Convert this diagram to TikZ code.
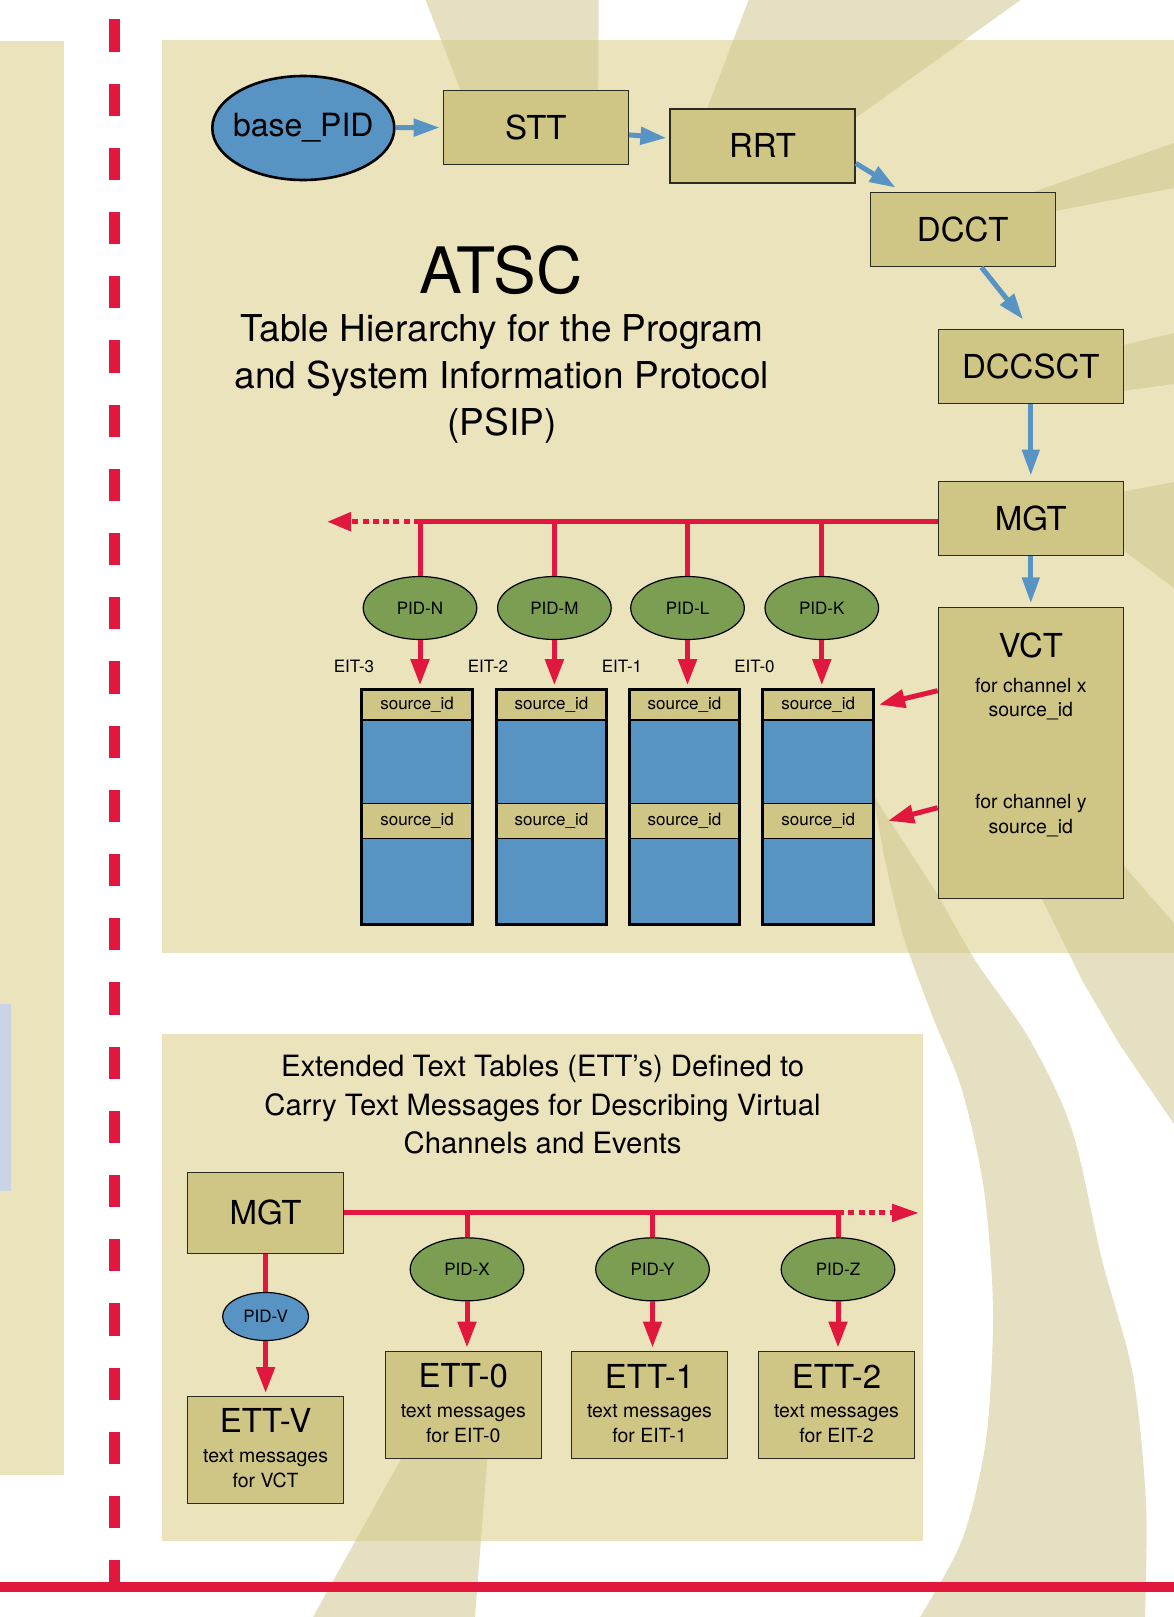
\documentclass[tikz,border=0pt]{standalone}
\usepackage{fontspec}
\setmainfont{TeX Gyre Heros}
\usetikzlibrary{arrows.meta}
\usetikzlibrary{shapes.geometric}
\usetikzlibrary{calc}
\definecolor{panel}{HTML}{EBE3BC}
\definecolor{boxfill}{HTML}{CFC584}
\definecolor{boxline}{HTML}{2B2B1F}
\definecolor{pidblue}{HTML}{5794C3}
\definecolor{pidgreen}{HTML}{7B9E52}
\definecolor{psipred}{HTML}{E2173E}
\definecolor{ray}{HTML}{D0C68C}
\definecolor{stripblue}{HTML}{C9D4E6}

\begin{document}
\begin{tikzpicture}[x=1pt, y=-1pt,
  table/.style={draw=boxline, line width=1.4pt, fill=boxfill, minimum width=185pt, minimum height=74pt, inner sep=0pt, font=\fontsize{33}{36}\selectfont},
  ett/.style={table, minimum width=156pt, minimum height=107pt},
  pid/.style={ellipse, draw=black, line width=1.2pt, fill=pidgreen, minimum width=113.6pt, minimum height=63pt, inner sep=0pt, font=\fontsize{17}{20}\selectfont},
  col/.style={fill=pidblue, minimum width=110.5pt, minimum height=234.7pt, inner sep=0pt},
  colframe/.style={draw=black, line width=3pt, minimum width=110.5pt, minimum height=234.7pt, inner sep=0pt},
  sid/.style={draw=black, line width=1.2pt, fill=boxfill, minimum width=110.5pt, inner sep=0pt, font=\fontsize{17}{20}\selectfont},
  small/.style={font=\fontsize{19.5}{24.5}\selectfont, align=center, inner sep=0pt},
  label/.style={font=\fontsize{17}{20}\selectfont, inner sep=0pt},
  bigtxt/.style={font=\fontsize{33}{36}\selectfont, inner sep=0pt},
  bluearrow/.style={pidblue, line width=5pt, -{Triangle[length=26pt, width=17pt]}},
  redarrow/.style={psipred, line width=5pt, -{Triangle[length=26pt, width=18pt]}},
  redline/.style={psipred, line width=5pt},
  dottedbus/.style={dash pattern=on 6pt off 4.3pt}]
\def\a{.53}
\useasboundingbox[fill=white] (0,0) rectangle (1174,1617);
\fill[panel] (0,41) rectangle (63.5,1474.5);
\fill[stripblue] (0,1004) rectangle (11,1190.7);
\fill[panel] (161.9,40) rectangle (1174,953);
\fill[panel] (161.9,1034) rectangle (922.8,1541);
\fill[ray, fill opacity=\a] (425.6,0) -- (598.7,0) -- (598,120) -- (472,120) -- cycle;
\fill[ray, fill opacity=\a] (748.6,0) -- (1020.5,0) -- (850,122) -- (702,122) -- cycle;
\fill[ray, fill opacity=\a] (1010,200) -- (1174,143) -- (1174,188) -- (1050,212) -- cycle;
\fill[ray, fill opacity=\a] (1115,347) -- (1174,333) -- (1174,384) -- (1115,392) -- cycle;
\fill[ray, fill opacity=\a] (1115,493) -- (1174,482) -- (1174,588) -- (1115,544) -- cycle;
\fill[ray, fill opacity=\a] plot[smooth] coordinates {(873,795) (885,860) (903,935) (932,1015) (962,1090) (984,1190) (993,1311) (986,1440) (962,1540) (920,1617)} -- (1145,1617) -- plot[smooth] coordinates {(1145,1617) (1146,1503) (1133,1375) (1102,1260) (1072,1130) (1030,1040) (975,960) (938,895)} -- cycle;
\fill[ray, fill opacity=\a] (1040,895) -- (1123,865) -- (1174,923) -- (1174,1124) -- (1120,1045) -- (1083,982) -- cycle;
\fill[ray, fill opacity=\a] (406,1450) -- (488,1450) -- (475,1617) -- (313,1617) -- cycle;
\draw[psipred, line width=10.7pt, dash pattern=on 32.2pt off 32pt] (114.8,19.3) -- (114.8,1587);
\draw[psipred, line width=10pt] (0,1587) -- (1174,1587);
%\draw[psipred, line width=10pt] (0,1587) -- (114.8,1587);

\node[ellipse, draw=black, line width=2.6pt, fill=pidblue, minimum width=182pt, minimum height=104pt, inner sep=0pt, inner xsep=-25pt, font=\fontsize{32}{36}\selectfont] (basepid) at (303.3,128) {base\_PID};
\node[table] (STT) at (535.9,127.2) {STT};
\node[table] (RRT) at (762.6,145.9) {RRT};
\node[table] (DCCT) at (962.8,229.7) {DCCT};
\node[table] (DCCSCT) at (1030.8,366.2) {DCCSCT};
\node[table] (MGTa) at (1030.8,518.2) {MGT};
\node[table, minimum height=291pt] (VCT) at (1030.8,753.2) {};
\node[bigtxt] (vctname) at (1030.8,645.7) {VCT};
\node[small] (chx) at (1030.8,698.9) {for channel x\\source\_id};
\node[small] (chy) at (1030.8,815.8) {for channel y\\source\_id};
\node[font=\fontsize{64}{70}\selectfont, inner sep=0pt] (atsc) at (501,270) {ATSC};
\node[font=\fontsize{37}{47.3}\selectfont, align=center, inner sep=0pt] (subtitle) at (502,379) {Table Hierarchy for the Program\\and System Information Protocol\\(PSIP)};

\draw[bluearrow, shorten >=3pt] (basepid) -- (STT);
\draw[bluearrow, shorten >=3pt] (STT) -- (RRT);
\draw[bluearrow] ([yshift=-17.4pt]RRT.east) -- ([xshift=26pt, yshift=4.4pt]DCCT.north west);
\draw[bluearrow] ([xshift=18.7pt]DCCT.south) -- ([xshift=-7.6pt, yshift=9pt]DCCSCT.north);
\draw[bluearrow, shorten >=5pt] (DCCSCT) -- (MGTa);
\draw[bluearrow, shorten >=3.7pt] (MGTa) -- (VCT);

\node[pid] (PIDN) at (420,608) {PID-N};
\node[pid] (PIDM) at (554.4,608) {PID-M};
\node[pid] (PIDL) at (687.5,608) {PID-L};
\node[pid] (PIDK) at (821.8,608) {PID-K};
\node[label] (eit3) at (354,666.7) {EIT-3};
\node[label] (eit2) at (488,666.7) {EIT-2};
\node[label] (eit1) at (622,666.7) {EIT-1};
\node[label] (eit0) at (754.5,666.7) {EIT-0};

\node[col] (col1) at (417.1,806.65) {};
\node[col] (col2) at (551.5,806.65) {};
\node[col] (col3) at (684.5,806.65) {};
\node[col] (col4) at (818.2,806.65) {};
\node[sid, minimum height=30.7pt] (sid1a) at (417.1,704.65) {source\_id};
\node[sid, minimum height=30.7pt] (sid2a) at (551.5,704.65) {source\_id};
\node[sid, minimum height=30.7pt] (sid3a) at (684.5,704.65) {source\_id};
\node[sid, minimum height=30.7pt] (sid4a) at (818.2,704.65) {source\_id};
\node[sid, minimum height=35pt] (sid1b) at (417.1,820.8) {source\_id};
\node[sid, minimum height=35pt] (sid2b) at (551.5,820.8) {source\_id};
\node[sid, minimum height=35pt] (sid3b) at (684.5,820.8) {source\_id};
\node[sid, minimum height=35pt] (sid4b) at (818.2,820.8) {source\_id};
\node[colframe] (frame1) at (col1) {};
\node[colframe] (frame2) at (col2) {};
\node[colframe] (frame3) at (col3) {};
\node[colframe] (frame4) at (col4) {};

\coordinate (busR) at ([yshift=-3.5pt]MGTa.west);
\coordinate (busL) at (327,521.7);
\draw[redline] (busR) -- (busR -| PIDN.north);
\draw[redline, dottedbus, -{Triangle[length=24pt, width=18pt]}] (busR -| PIDN.north) -- (busL);
\draw[redline] (busR -| PIDN.north) -- (PIDN.north);
\draw[redline] (busR -| PIDM.north) -- (PIDM.north);
\draw[redline] (busR -| PIDL.north) -- (PIDL.north);
\draw[redline] (busR -| PIDK.north) -- (PIDK.north);
\draw[redarrow, shorten >=2.6pt] (PIDN.south) -- (PIDN.south |- frame1.north);
\draw[redarrow, shorten >=2.6pt] (PIDM.south) -- (PIDM.south |- frame2.north);
\draw[redarrow, shorten >=2.6pt] (PIDL.south) -- (PIDL.south |- frame3.north);
\draw[redarrow, shorten >=2.6pt] (PIDK.south) -- (PIDK.south |- frame4.north);
\draw[redarrow] ($(VCT.west)+(0,-62.5)$) -- ($(sid4a.east)+(5,0)$);
\draw[redarrow] ($(VCT.west)+(0,54.5)$) -- ($(sid4b.east)+(14,0)$);

\node[font=\fontsize{29.3}{38.7}\selectfont, align=center, inner sep=0pt] (etttitle) at (542.6,1104.8) {Extended Text Tables (ETT’s) Defined to\\Carry Text Messages for Describing Virtual\\Channels and Events};
\node[table, minimum width=156pt, minimum height=80.8pt] (MGTb) at (265.6,1212.9) {MGT};
\node[pid, fill=pidblue, minimum width=86pt, minimum height=48pt] (PIDV) at (265.6,1316.5) {PID-V};
\node[pid] (PIDX) at (467,1269.3) {PID-X};
\node[pid] (PIDY) at (652.5,1269.3) {PID-Y};
\node[pid] (PIDZ) at (838,1269.3) {PID-Z};
\node[ett] (ETTV) at (265.6,1450.2) {};
\node[ett] (ETT0) at (463.3,1404.7) {};
\node[ett] (ETT1) at (649.5,1404.7) {};
\node[ett] (ETT2) at (836.5,1404.7) {};
\node[bigtxt] (ETTVt) at ($(ETTV.north)+(0,24.3)$) {ETT-V};
\node[small] (ETTVs) at ($(ETTV.north)+(0,72.8)$) {text messages\\for VCT};
\node[bigtxt] (ETT0t) at ($(ETT0.north)+(0,25.6)$) {ETT-0};
\node[small] (ETT0s) at ($(ETT0.north)+(0,72.9)$) {text messages\\for EIT-0};
\node[bigtxt] (ETT1t) at ($(ETT1.north)+(0,25.6)$) {ETT-1};
\node[small] (ETT1s) at ($(ETT1.north)+(0,72.9)$) {text messages\\for EIT-1};
\node[bigtxt] (ETT2t) at ($(ETT2.north)+(0,25.6)$) {ETT-2};
\node[small] (ETT2s) at ($(ETT2.north)+(0,72.9)$) {text messages\\for EIT-2};

\coordinate (bus2R) at (919,1212.9);
\draw[redline] (MGTb.east) -- (MGTb.east -| PIDZ.north);
\draw[redline, dottedbus, -{Triangle[length=27pt, width=17pt]}] (MGTb.east -| PIDZ.north) -- (bus2R);
\draw[redline] (MGTb.east -| PIDX.north) -- (PIDX.north);
\draw[redline] (MGTb.east -| PIDY.north) -- (PIDY.north);
\draw[redline] (MGTb.east -| PIDZ.north) -- (PIDZ.north);
\draw[redline] (MGTb) -- (PIDV);
\draw[redarrow, shorten >=3pt] (PIDV) -- (ETTV);
\draw[redarrow, shorten >=3pt] (PIDX.south) -- (PIDX.south |- ETT0.north);
\draw[redarrow, shorten >=3pt] (PIDY.south) -- (PIDY.south |- ETT1.north);
\draw[redarrow, shorten >=3pt] (PIDZ.south) -- (PIDZ.south |- ETT2.north);
\end{tikzpicture}
\end{document}
